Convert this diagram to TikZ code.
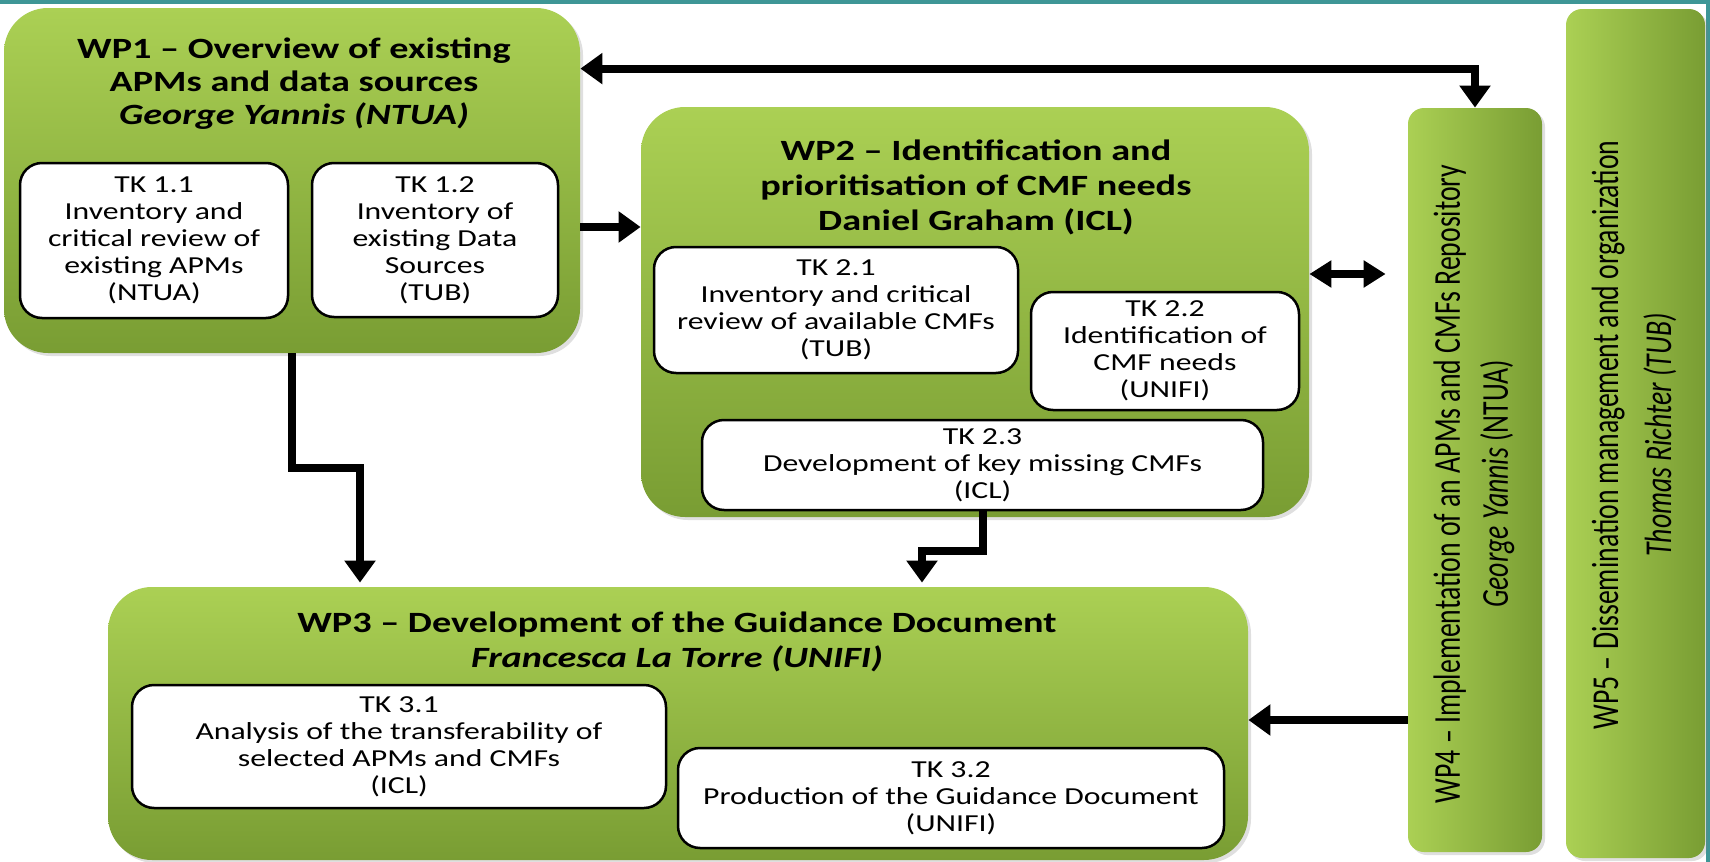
\documentclass[tikz,border=0pt]{standalone}
\usepackage{fontspec}
\setmainfont[FakeStretch=1.3]{Carlito}
\newfontfamily\sidefont[FakeStretch=0.73]{Carlito}
\usetikzlibrary{arrows.meta, positioning, shadows}

\definecolor{wptop}{RGB}{171,208,84}
\definecolor{wpbottom}{RGB}{121,157,51}
\definecolor{frameteal}{RGB}{62,150,150}

\begin{document}
\begin{tikzpicture}[x=0.5pt, y=-0.5pt,
      wpbox/.style={draw=none, rounded corners=22pt, top color=wptop,
          bottom color=wpbottom, drop shadow={opacity=0.25, shadow xshift=1.5pt, shadow yshift=-1.5pt}},
      wpside/.style={draw=none, rounded corners=8pt, left color=wptop,
          right color=wpbottom, drop shadow={opacity=0.25, shadow xshift=1.5pt, shadow yshift=-1.5pt}},
      tkbox/.style={draw, line width=1.25pt, rounded corners=11pt, fill=white,
          align=center, inner sep=2pt, font=\fontsize{12.2}{13.5}\selectfont},
      wptitle/.style={align=center, font=\bfseries\fontsize{14.7}{16.5}\selectfont},
      sidetext/.style={align=center, rotate=90, font=\sidefont\fontsize{19}{24}\selectfont},
      arr/.style={-{Triangle[length=11pt, width=15pt]}, line width=4pt},
    ]

    \useasboundingbox (0,0) rectangle (1710,862);
    \fill[frameteal] (0,0) rectangle (1710,4);
    \fill[frameteal] (1706,0) rectangle (1710,862);

    % work packages
    \node[wpbox, minimum width=288pt, minimum height=172.5pt] (wp1) at (292,180.5) {};
    \node[wpbox, minimum width=334pt, minimum height=205pt] (wp2) at (975,312) {};
    \node[wpbox, minimum width=570pt, minimum height=136.5pt] (wp3) at (678,723.5) {};
    \node[wpside, minimum width=67pt, minimum height=372pt] (wp4) at (1475,480) {};
    \node[wpside, minimum width=69.5pt, minimum height=424.5pt] (wp5) at (1635.5,433.5) {};

    \node[wptitle] (wp1title) at (294,84) {WP1 – Overview of existing\\APMs and data sources\\\textit{George Yannis (NTUA)}};
    \node[wptitle, font=\bfseries\fontsize{14.7}{17.5}\selectfont] (wp2title) at (976,187) {WP2 – Identification and\\prioritisation of CMF needs\\Daniel Graham (ICL)};
    \node[wptitle, font=\bfseries\fontsize{14.7}{17.5}\selectfont] (wp3title) at (677,642) {WP3 – Development of the Guidance Document\\\textit{Francesca La Torre (UNIFI)}};
    \node[sidetext] (wp4text) at (1474,484) {WP4 – Implementation of an APMs and CMFs Repository\\\textit{George Yannis} (NTUA)};
    \node[sidetext, font=\sidefont\fontsize{19}{26.5}\selectfont] (wp5text) at (1634,435) {WP5 – Dissemination management and organization\\\textit{Thomas Richter (TUB)}};

    % tasks
    \node[tkbox, minimum width=134pt, minimum height=77.5pt] (tk11) at (154,240.5) {TK 1.1\\Inventory and\\critical review of\\existing APMs\\(NTUA)};
    \node[tkbox, minimum width=123pt, minimum height=77pt] (tk12) at (435,240) {TK 1.2\\Inventory of\\existing Data\\Sources\\(TUB)};
    \node[tkbox, minimum width=182pt, minimum height=63pt] (tk21) at (836,310) {TK 2.1\\Inventory and critical\\review of available CMFs\\(TUB)};
    \node[tkbox, minimum width=134pt, minimum height=59pt] (tk22) at (1165,351) {TK 2.2\\Identification of\\CMF needs\\(UNIFI)};
    \node[tkbox, minimum width=280.5pt, minimum height=45pt] (tk23) at (982.5,465) {TK 2.3\\Development of key missing CMFs\\(ICL)};
    \node[tkbox, minimum width=267pt, minimum height=61.5pt] (tk31) at (399,746.5) {TK 3.1\\Analysis of the transferability of\\selected APMs and CMFs\\(ICL)};
    \node[tkbox, minimum width=273pt, minimum height=50pt] (tk32) at (951,798) {TK 3.2\\Production of the Guidance Document\\(UNIFI)};

    % links
    \draw[arr, {Triangle[length=11pt, width=15pt]}-{Triangle[length=11pt, width=15pt]}]
      ([yshift=-30.5pt]wp1.north east) -| (wp4.north);
    \draw[arr] ([yshift=-23.25pt]wp1.east) -- ([yshift=-23.25pt]wp1.east -| wp2.west);
    \draw[arr, {Triangle[length=11pt, width=13pt]}-{Triangle[length=11pt, width=13pt]}, shorten >=11pt]
      ([yshift=19pt]wp2.east) -- ([yshift=19pt]wp2.east -| wp4.west);
    \draw[arr] ([yshift=1.75pt]wp3.east -| wp4.west) -- ([yshift=1.75pt]wp3.east);
    \draw[arr, shorten >=2pt] (wp1.south) -- ++(0,115) -| ([xshift=-159pt]wp3.north);
    \draw[arr, shorten >=2pt] (tk23.south) -- ++(0,40) -| ([xshift=122pt]wp3.north);

  \end{tikzpicture}
\end{document}
